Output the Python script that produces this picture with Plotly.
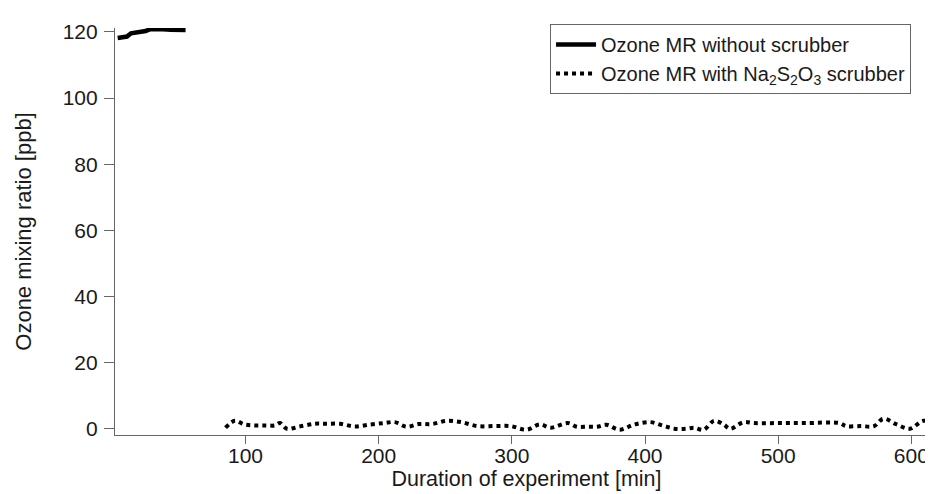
import plotly.graph_objects as go

# Ozone MR without scrubber
x_noscrub = [4, 8, 11, 14, 18, 21, 25, 28, 33, 38, 44, 50, 55]
y_noscrub = [118.2, 118.4, 118.6, 119.6, 119.8, 120.2, 120.3, 120.8, 120.9, 120.8, 120.7, 120.6, 120.6]

# Ozone MR with Na2S2O3 scrubber
x_scrub = [85, 92, 99, 107, 115, 122, 126, 131, 141, 152, 160, 171, 182, 194, 204,
           212, 221, 230, 240, 251, 262, 274, 287, 299, 311, 321, 329, 342, 349, 357, 364,
           371, 381, 392, 404, 413, 422, 431, 437, 444, 452, 459, 464, 474, 482, 500,
           520, 546, 551, 562, 572, 579, 589, 599, 609, 619]
y_scrub = [0.3, 2.4, 1.3, 1.0, 1.0, 1.0, 1.7, 0.0, 0.7, 1.5, 1.5, 1.5, 0.7, 1.3, 1.7,
           2.0, 0.6, 1.4, 1.4, 2.4, 2.0, 0.8, 0.8, 0.8, -0.3, 1.3, 0.3, 1.7, 0.6, 0.6, 0.6,
           1.2, -0.3, 1.3, 2.0, 1.0, 0.0, 0.0, 0.3, -0.3, 2.4, 1.3, 0.0, 2.0, 1.7, 1.7,
           1.7, 1.7, 0.8, 0.8, 0.8, 3.0, 1.3, 0.0, 2.4, 1.3]

x_ticks = [100, 200, 300, 400, 500, 600]
y_ticks = [0, 20, 40, 60, 80, 100, 120]

FONT = "Liberation Sans, Arial"

fig = go.Figure()
fig.add_trace(go.Scatter(x=x_noscrub, y=y_noscrub, mode="lines",
                         name="Ozone MR without scrubber",
                         line=dict(color="black", width=4.5)))
fig.add_trace(go.Scatter(x=x_scrub, y=y_scrub, mode="lines",
                         name="Ozone MR with Na<sub>2</sub>S<sub>2</sub>O<sub>3</sub> scrubber",
                         line=dict(color="black", width=4, dash="4px,4px", shape="spline")))

axis_common = dict(showline=True, linecolor="#666", linewidth=1.2, ticks="outside",
                   tickcolor="#666", showgrid=False, zeroline=False,
                   tickfont=dict(family=FONT, size=21, color="#1a1a1a"))

fig.update_layout(
    width=933, height=494,
    plot_bgcolor="white", paper_bgcolor="white",
    margin=dict(l=107, r=3, t=20, b=67, autoexpand=False),
    font=dict(family=FONT, size=21, color="#1a1a1a"),
    xaxis=dict(range=[2, 620], tickvals=x_ticks, ticklen=8, ticklabelstandoff=-6,
               title=dict(text="Duration of experiment [min]", standoff=4,
                          font=dict(size=21.5)), **axis_common),
    yaxis=dict(range=[-1.9, 121.2], tickvals=y_ticks, ticklen=10, ticklabelstandoff=2,
               title=dict(text="Ozone mixing ratio [ppb]", standoff=24,
                          font=dict(size=22)), **axis_common),
    legend=dict(x=0.5286, y=1.01, xanchor="left", yanchor="top",
                bordercolor="#666", borderwidth=1, bgcolor="white",
                font=dict(size=20), tracegroupgap=0, itemwidth=40),
    showlegend=True,
)

fig.write_html("out.html")
